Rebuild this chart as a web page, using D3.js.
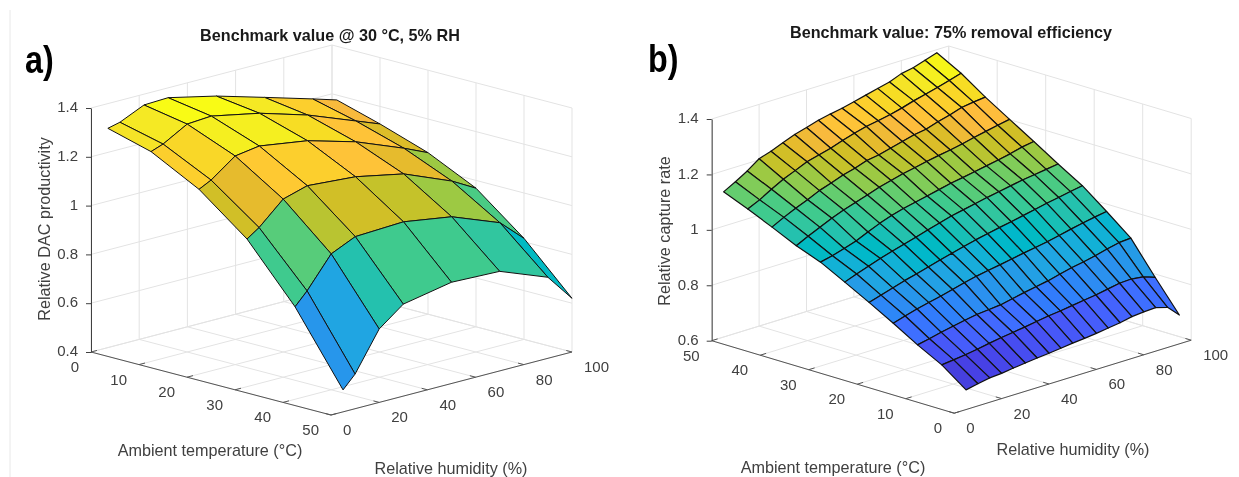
<!DOCTYPE html>
<html>
<head>
<meta charset="utf-8" />
<script src="https://d3js.org/d3.v7.min.js"></script>
<style>
  body { margin: 0; background: #fff; }
  svg { display: block; filter: blur(0.35px); }
  text { font-family: "Liberation Sans", Arial, sans-serif; fill: #404040; }
</style>
</head>
<body>
<div id="chart"></div>
<script>
  // panel a: relative DAC productivity
  var tempA = [1, 10, 20, 30, 40, 50];
  var rhA = [5, 10, 20, 30, 50, 70, 90, 100];
  var zA = [
    [1.309, 1.321, 1.366, 1.37, 1.325, 1.268, 1.21, 1.18],
    [1.26, 1.278, 1.334, 1.341, 1.301, 1.242, 1.166, 1.128],
    [1.157, 1.182, 1.255, 1.27, 1.24, 1.184, 1.106, 1.062],
    [1.005, 1.039, 1.13, 1.159, 1.144, 1.104, 1.023, 0.968],
    [0.779, 0.831, 0.957, 1.002, 1.011, 0.98, 0.904, 0.814],
    [0.49, 0.542, 0.701, 0.777, 0.815, 0.808, 0.732, 0.62]
  ];

  // panel b: relative capture rate
  var tempB = [50, 45, 40, 35, 30, 25, 20, 15, 10, 5, 0];
  var rhB = [5, 10, 15, 20, 25, 30, 35, 40, 45, 50, 55, 60, 65, 70, 75, 80, 85, 90, 95];
  var zB = [
    [1.124, 1.147, 1.173, 1.204, 1.218, 1.235, 1.252, 1.264, 1.277, 1.286, 1.294, 1.304, 1.315, 1.326, 1.336, 1.353, 1.361, 1.375, 1.389],
    [1.088, 1.108, 1.133, 1.156, 1.174, 1.193, 1.204, 1.215, 1.23, 1.243, 1.254, 1.262, 1.27, 1.281, 1.294, 1.305, 1.316, 1.328, 1.341],
    [1.049, 1.071, 1.091, 1.108, 1.128, 1.142, 1.158, 1.169, 1.184, 1.191, 1.202, 1.213, 1.224, 1.231, 1.245, 1.256, 1.27, 1.276, 1.281],
    [1.008, 1.029, 1.048, 1.068, 1.084, 1.098, 1.112, 1.127, 1.138, 1.149, 1.158, 1.167, 1.175, 1.182, 1.191, 1.201, 1.21, 1.219, 1.227],
    [0.975, 0.985, 0.998, 1.012, 1.031, 1.049, 1.064, 1.076, 1.086, 1.095, 1.105, 1.115, 1.122, 1.13, 1.138, 1.146, 1.155, 1.166, 1.173],
    [0.929, 0.945, 0.96, 0.975, 0.988, 1.0, 1.012, 1.025, 1.037, 1.049, 1.058, 1.067, 1.076, 1.084, 1.092, 1.1, 1.106, 1.112, 1.118],
    [0.882, 0.895, 0.908, 0.921, 0.932, 0.944, 0.956, 0.967, 0.978, 0.989, 0.998, 1.007, 1.015, 1.024, 1.033, 1.042, 1.05, 1.058, 1.066],
    [0.833, 0.846, 0.858, 0.868, 0.878, 0.889, 0.9, 0.91, 0.918, 0.925, 0.933, 0.941, 0.948, 0.956, 0.965, 0.975, 0.984, 0.992, 0.999],
    [0.781, 0.79, 0.8, 0.809, 0.817, 0.825, 0.829, 0.833, 0.842, 0.851, 0.859, 0.867, 0.878, 0.888, 0.896, 0.905, 0.916, 0.926, 0.929],
    [0.735, 0.74, 0.745, 0.752, 0.76, 0.767, 0.773, 0.779, 0.786, 0.793, 0.798, 0.804, 0.81, 0.816, 0.824, 0.832, 0.834, 0.829, 0.814],
    [0.671, 0.68, 0.688, 0.691, 0.697, 0.702, 0.707, 0.711, 0.716, 0.721, 0.725, 0.73, 0.736, 0.742, 0.751, 0.755, 0.757, 0.745, 0.704]
  ];

  var tempTicksA = [0, 10, 20, 30, 40, 50];
  var tempTicksB = [50, 40, 30, 20, 10, 0];
  var rhTicks = [0, 20, 40, 60, 80, 100];
  var zTicksA = [0.4, 0.6, 0.8, 1, 1.2, 1.4];
  var zTicksB = [0.6, 0.8, 1, 1.2, 1.4];

  // parula
  var parula = ["#3e2aa8","#402ab4","#4232c0","#4332cb","#4537d5","#4640de","#4741e5","#4747eb","#474df0","#4752f4","#4758f8","#465dfb","#4463fd","#4269fe","#3e6fff","#3875fe","#327cfc","#2f81fa","#2d87f7","#2d8cf3","#2b91ef","#2796eb","#259be7","#23a0e5","#20a5e2","#1ca9df","#18addb","#12b1d6","#08b5d0","#01b8ca","#02bac3","#0bbdbd","#18bfb6","#24c1ae","#2cc3a7","#31c69f","#37c897","#3fca8e","#4acb84","#57cc7a","#64cd6f","#71cd64","#81cc59","#8fcb4e","#9dc943","#abc739","#b9c431","#c5c22a","#d1bf27","#dcbd29","#e6bb2d","#efba36","#f8ba3d","#febd3c","#fec338","#fec932","#fccf2d","#f9d728","#f7dd24","#f5e327","#f5e924","#f5ef20","#f6f518","#f9fb15"];

  var width = 1239, height = 477;
  var svg = d3.select("#chart").append("svg").attr("width", width).attr("height", height);

  svg.append("line")
    .attr("x1", 10).attr("x2", 10).attr("y1", 10).attr("y2", height)
    .attr("stroke", "#e8e8e8");

  function drawPanel(p) {
    var g = svg.append("g");

    // affine view: each data axis adds its own pixel offset
    var xT = d3.scaleLinear().domain(p.tempDomain).range([0, p.tempRun[0]]);
    var yT = d3.scaleLinear().domain(p.tempDomain).range([0, p.tempRun[1]]);
    var xR = d3.scaleLinear().domain([0, 100]).range([0, p.rhRun[0]]);
    var yR = d3.scaleLinear().domain([0, 100]).range([0, p.rhRun[1]]);
    var z = d3.scaleLinear().domain(p.zDomain).range([p.origin[1], p.top]);

    function pt(t, r, v) {
      return [p.origin[0] + xT(t) + xR(r), z(v) + yT(t) + yR(r)];
    }
    function seg(sel, a, b, color) {
      sel.append("line")
        .attr("x1", a[0]).attr("y1", a[1])
        .attr("x2", b[0]).attr("y2", b[1])
        .attr("stroke", color);
    }

    var tFar = p.tempDomain[0], tNear = p.tempDomain[1];
    var zMin = p.zDomain[0], zMax = p.zDomain[1];

    // back walls and floor
    var grid = g.append("g");
    var gridColor = "#e3e3e3";
    p.zTicks.forEach(function (v) {
      seg(grid, pt(tFar, 0, v), pt(tFar, 100, v), gridColor);
      seg(grid, pt(tFar, 100, v), pt(tNear, 100, v), gridColor);
    });
    rhTicks.forEach(function (r) {
      seg(grid, pt(tFar, r, zMin), pt(tFar, r, zMax), gridColor);
      seg(grid, pt(tFar, r, zMin), pt(tNear, r, zMin), gridColor);
    });
    p.tempTicks.forEach(function (t) {
      seg(grid, pt(t, 100, zMin), pt(t, 100, zMax), gridColor);
      seg(grid, pt(t, 0, zMin), pt(t, 100, zMin), gridColor);
    });

    // axes
    var axisColor = "#555555";
    var tickFont = "15px";
    var labelFont = "16.2px";
    seg(g, pt(tFar, 0, zMin), pt(tNear, 0, zMin), axisColor);
    seg(g, pt(tNear, 0, zMin), pt(tNear, 100, zMin), axisColor);
    p.tempTicks.forEach(function (t) {
      seg(g, pt(t, 0, zMin), pt(t, 2.5, zMin), axisColor);
      g.append("text")
        .attr("x", pt(t, 0, zMin)[0] - 12)
        .attr("y", pt(t, 0, zMin)[1] + 20)
        .attr("text-anchor", "end")
        .style("font-size", tickFont)
        .text(t);
    });
    rhTicks.forEach(function (r) {
      var dir = (p.tempDomain[1] > p.tempDomain[0]) ? -1.2 : 1.2;
      seg(g, pt(tNear, r, zMin), pt(tNear + dir, r, zMin), axisColor);
      g.append("text")
        .attr("x", pt(tNear, r, zMin)[0] + 12)
        .attr("y", pt(tNear, r, zMin)[1] + 20)
        .style("font-size", tickFont)
        .text(r);
    });

    var zAxis = g.append("g")
      .attr("transform", "translate(" + p.origin[0] + ",0)")
      .call(d3.axisLeft(z).tickValues(p.zTicks).tickSize(5).tickSizeOuter(0).tickFormat(function (d) { return d; }));
    zAxis.selectAll("path").attr("stroke", "#404040");
    zAxis.selectAll("line").attr("stroke", "#404040");
    zAxis.selectAll("text")
      .attr("x", -13)
      .attr("dy", "0.25em")
      .style("font-size", tickFont)
      .style("font-family", "Liberation Sans");

    // surface, far faces first; each face takes the colour of its first vertex
    var allZ = d3.merge(p.values);
    var color = d3.scaleQuantize().domain(d3.extent(allZ)).range(parula);
    var line = d3.line();
    var surface = g.append("g");
    for (var i = 0; i < p.temps.length - 1; i++) {
      for (var j = p.rhs.length - 2; j >= 0; j--) {
        var corners = [
          pt(p.temps[i], p.rhs[j], p.values[i][j]),
          pt(p.temps[i], p.rhs[j + 1], p.values[i][j + 1]),
          pt(p.temps[i + 1], p.rhs[j + 1], p.values[i + 1][j + 1]),
          pt(p.temps[i + 1], p.rhs[j], p.values[i + 1][j])
        ];
        surface.append("path")
          .attr("d", line(corners) + "Z")
          .attr("fill", color(p.values[i][j]))
          .attr("stroke", "#111111")
          .attr("stroke-width", p.edge)
          .attr("stroke-linejoin", "round");
      }
    }

    // titles and labels
    g.append("text")
      .attr("x", p.title[1]).attr("y", p.title[2])
      .attr("text-anchor", "middle")
      .style("font-size", "16.2px")
      .style("font-weight", "bold")
      .style("fill", "#1a1a1a")
      .text(p.title[0]);
    g.append("text")
      .attr("transform", "translate(" + p.tag[1] + "," + p.tag[2] + ") scale(0.85,1)")
      .style("font-size", "38px")
      .style("font-weight", "bold")
      .style("fill", "#000")
      .text(p.tag[0]);
    g.append("text")
      .attr("x", p.tempLabel[0]).attr("y", p.tempLabel[1])
      .attr("text-anchor", "middle")
      .style("font-size", labelFont)
      .text("Ambient temperature (°C)");
    g.append("text")
      .attr("x", p.rhLabel[0]).attr("y", p.rhLabel[1])
      .attr("text-anchor", "middle")
      .style("font-size", labelFont)
      .text("Relative humidity (%)");
    g.append("text")
      .attr("transform", "translate(" + p.zLabel[1] + "," + p.zLabel[2] + ") rotate(-90)")
      .attr("text-anchor", "middle")
      .style("font-size", labelFont)
      .text(p.zLabel[0]);
  }

  drawPanel({
    temps: tempA, rhs: rhA, values: zA, edge: 1,
    tempDomain: [0, 50], tempTicks: tempTicksA, zDomain: [0.4, 1.4], zTicks: zTicksA,
    origin: [91, 352], top: 108, tempRun: [240, 63], rhRun: [241, -63],
    title: ["Benchmark value @ 30 °C, 5% RH", 330, 40.5],
    tag: ["a)", 25, 73],
    tempLabel: [210, 456], rhLabel: [451, 474],
    zLabel: ["Relative DAC productivity", 50, 229]
  });

  drawPanel({
    temps: tempB, rhs: rhB, values: zB, edge: 1.2,
    tempDomain: [50, 0], tempTicks: tempTicksB, zDomain: [0.6, 1.4], zTicks: zTicksB,
    origin: [711.7, 340.7], top: 119, tempRun: [242.5, 72.5], rhRun: [237, -73],
    title: ["Benchmark value: 75% removal efficiency", 951, 37.5],
    tag: ["b)", 648, 72],
    tempLabel: [833, 473], rhLabel: [1073, 455],
    zLabel: ["Relative capture rate", 669.5, 231]
  });
</script>
</body>
</html>
